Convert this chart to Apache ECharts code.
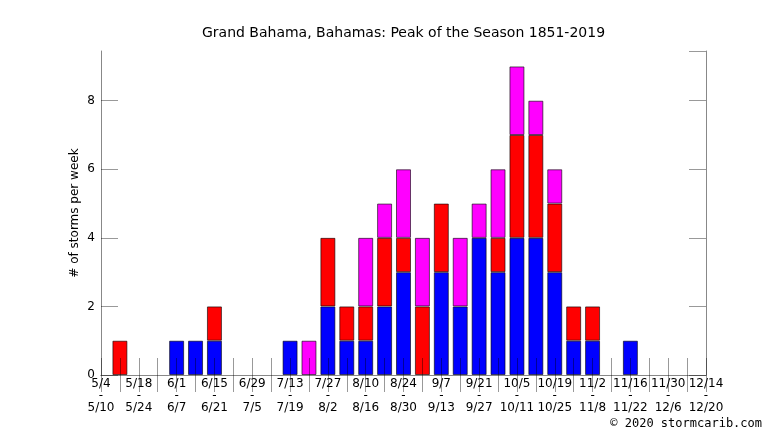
<!DOCTYPE html>
<html>
<head>
<meta charset="utf-8">
<script src="https://cdn.jsdelivr.net/npm/echarts@6/dist/echarts.min.js"></script>
<style>
    html, body { margin: 0; padding: 0; background: #fff; }
    #chart { width: 766px; height: 431px; }
</style>
</head>
<body>
<div id="chart"></div>
<script>
// week start / end dates (one category per week)
var weekStarts = ['5/4','5/11','5/18','5/25','6/1','6/8','6/15','6/22','6/29','7/6','7/13','7/20','7/27','8/3','8/10','8/17','8/24','8/31','9/7','9/14','9/21','9/28','10/5','10/12','10/19','10/26','11/2','11/9','11/16','11/23','11/30','12/7','12/14'];
var weekEnds = ['5/10','5/17','5/24','5/31','6/7','6/14','6/21','6/28','7/5','7/12','7/19','7/26','8/2','8/9','8/16','8/23','8/30','9/6','9/13','9/20','9/27','10/4','10/11','10/18','10/25','11/1','11/8','11/15','11/22','11/29','12/6','12/13','12/20'];

// stacked counts, bottom to top
var blueCounts    = [0,0,0,0,1,1,1,0,0,0,1,0,2,1,1,2,3,0,3,2,4,3,4,4,3,1,1,0,1,0,0,0,0];
var redCounts     = [0,1,0,0,0,0,1,0,0,0,0,0,2,1,1,2,1,2,2,0,0,1,3,3,2,1,1,0,0,0,0,0,0];
var magentaCounts = [0,0,0,0,0,0,0,0,0,0,0,1,0,0,2,1,2,2,0,2,1,2,2,1,1,0,0,0,0,0,0,0,0];

var yTicks = [0, 2, 4, 6, 8];

var chart = echarts.init(document.getElementById('chart'));

var font = 'DejaVu Sans';
var tickColor = 'rgba(0,0,0,0.4)';
var lineColor = '#888';

function noZero(arr) {
    return arr.map(function (v) { return v === 0 ? null : v; });
}

function barSeries(name, data, color) {
    return {
        name: name,
        type: 'bar',
        stack: 'all',
        barWidth: 15,
        data: noZero(data),
        itemStyle: {
            color: color,
            borderColor: 'rgba(0,0,0,0.6)',
            borderWidth: 1
        }
    };
}

var option = {
    backgroundColor: '#fff',
    animation: false,
    textStyle: { fontFamily: font },
    grid: { left: 101, right: 60, top: 51, bottom: 56 },
    graphic: [
        {
            type: 'text', x: 403.5, y: 33,
            style: {
                text: 'Grand Bahama, Bahamas: Peak of the Season 1851-2019',
                fontFamily: font, fontSize: 14, fill: '#000',
                align: 'center', verticalAlign: 'middle'
            }
        },
        {
            type: 'text', x: 762, y: 424,
            style: {
                text: '© 2020 stormcarib.com',
                fontFamily: 'DejaVu Sans Mono', fontSize: 12, fill: '#000',
                align: 'right', verticalAlign: 'middle'
            }
        }
    ],
    xAxis: [
        {
            type: 'category',
            data: weekStarts,
            boundaryGap: false,
            position: 'bottom',
            z: 3,
            axisLine: { show: true, lineStyle: { color: lineColor, width: 1 } },
            axisTick: { show: true, inside: true, length: 17, interval: 0, lineStyle: { color: tickColor } },
            axisLabel: {
                interval: 1,
                margin: 3,
                color: '#000',
                fontSize: 12,
                lineHeight: 12,
                fontFamily: font,
                formatter: function (value, index) {
                    return value + '\n-\n' + weekEnds[index];
                }
            },
            splitLine: { show: false }
        },
        {
            type: 'category',
            data: weekStarts,
            boundaryGap: false,
            position: 'top',
            z: 3,
            axisLine: { show: true, lineStyle: { color: lineColor, width: 1 } },
            axisTick: { show: true, inside: true, length: 17, interval: 0, lineStyle: { color: tickColor } },
            axisLabel: { show: false },
            splitLine: { show: false }
        }
    ],
    yAxis: [
        {
            type: 'value',
            min: 0,
            max: 9.45,
            interval: 2,
            position: 'left',
            z: 3,
            name: '# of storms per week',
            nameLocation: 'middle',
            nameGap: 20,
            nameMoveOverlap: false,
            nameTextStyle: { color: '#000', fontSize: 12, fontFamily: font },
            axisLine: { show: true, lineStyle: { color: lineColor, width: 1 } },
            axisTick: { show: true, inside: true, length: 17, lineStyle: { color: tickColor } },
            axisLabel: {
                color: '#000', fontSize: 12, margin: 6, fontFamily: font,
                showMaxLabel: false,
                formatter: function (v) { return yTicks.indexOf(v) >= 0 ? String(v) : ''; }
            },
            splitLine: { show: false }
        },
        {
            type: 'value',
            min: 0,
            max: 9.45,
            interval: 2,
            position: 'right',
            z: 3,
            axisLine: { show: true, lineStyle: { color: lineColor, width: 1 } },
            axisTick: { show: true, inside: true, length: 17, lineStyle: { color: tickColor } },
            axisLabel: { show: false },
            splitLine: { show: false }
        }
    ],
    series: [
        barSeries('blue', blueCounts, '#0000ff'),
        barSeries('red', redCounts, '#ff0000'),
        barSeries('magenta', magentaCounts, '#ff00ff')
    ]
};

chart.setOption(option);
</script>
</body>
</html>
